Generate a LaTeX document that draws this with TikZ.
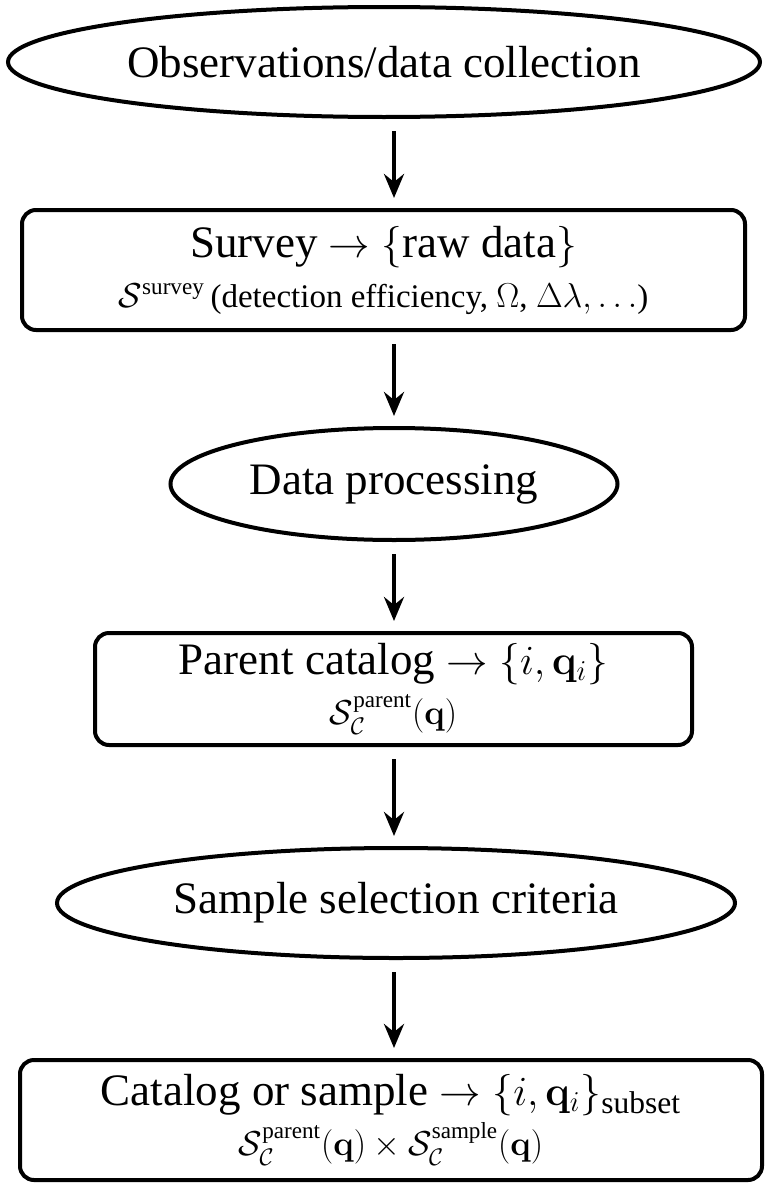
\documentclass[tikz,border=0pt]{standalone}
\usepackage{amsmath, amsfonts, amssymb}
\usepackage[no-math]{fontspec}
\setmainfont{Liberation Serif}
\usetikzlibrary{shapes.geometric, arrows.meta}

\newcommand{\mainsize}{\fontsize{22.5}{26}\selectfont}
\newcommand{\subsize}{\fontsize{16.5}{19}\selectfont}

\begin{document}
\begin{tikzpicture}[x=0.5pt,y=-0.5pt]
	\tikzstyle{oval}=[ellipse,draw=black,line width=2pt,inner sep=0pt,font=\mainsize]
	\tikzstyle{stage}=[rectangle,rounded corners=7pt,draw=black,line width=2pt,align=center,inner sep=0pt,font=\mainsize]
	\tikzstyle{flow}=[line width=2pt,-{Stealth[length=12pt,width=10pt,inset=4pt]},shorten <=6pt,shorten >=5pt]
	\useasboundingbox (0,0) rectangle (765,1183);
	\coordinate (axis) at (394,0);
	\node[oval,minimum width=376pt,minimum height=55pt](obs) at (384,62) {Observations/data collection};
	\node[stage,minimum width=361.5pt,minimum height=60pt](survey) at (383.5,270) {Survey $\rightarrow \{\text{raw data}\}$\\[-1pt]
		{\subsize $\mathcal{S}^{\text{survey}}\,$(detection efficiency, $\Omega$, $\Delta\lambda, \ldots$)}};
	\node[oval,minimum width=223.5pt,minimum height=56pt](proc) at (394,484) {Data processing};
	\node[stage,minimum width=298.5pt,minimum height=56pt](parent) at (393.5,689) {Parent catalog $\rightarrow \{i, \mathbf{q}_i\}$\\[-1pt]
		{\subsize $\mathcal{S}_{\mathcal{C}}^{\text{parent}}(\mathbf{q})$}};
	\node[oval,minimum width=339pt,minimum height=55pt](crit) at (396,903) {Sample selection criteria};
	\node[stage,minimum width=371pt,minimum height=60pt](sample) at (391,1120) {Catalog or sample $\rightarrow \{i, \mathbf{q}_i\}_{\text{subset}}$\\[-1pt]
		{\subsize $\mathcal{S}_{\mathcal{C}}^{\text{parent}}(\mathbf{q}) \times \mathcal{S}_{\mathcal{C}}^{\text{sample}}(\mathbf{q})$}};
	\draw[flow](obs.south -| axis) -- (survey.north -| axis);
	\draw[flow](survey.south -| axis) -- (proc.north -| axis);
	\draw[flow](proc.south -| axis) -- (parent.north -| axis);
	\draw[flow](parent.south -| axis) -- (crit.north -| axis);
	\draw[flow](crit.south -| axis) -- (sample.north -| axis);
\end{tikzpicture}
\end{document}
